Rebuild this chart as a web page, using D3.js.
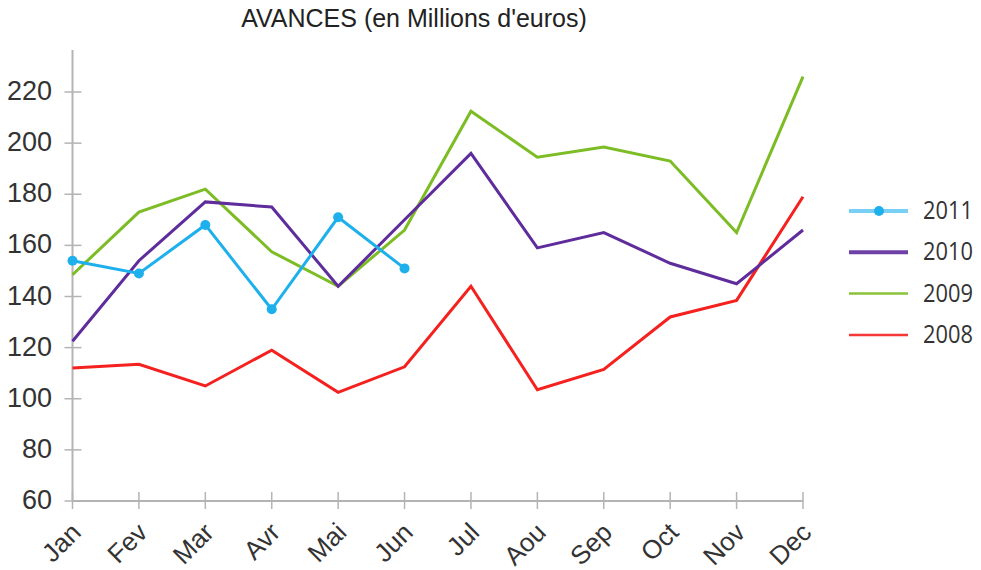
<!DOCTYPE html>
<html>
<head>
<meta charset="utf-8">
<script src="https://cdn.jsdelivr.net/npm/d3@7"></script>
<style>
  html, body { margin: 0; padding: 0; background: #fff; }
  svg { display: block; }
</style>
</head>
<body>
<div id="chart"></div>
<script>
// Donnees (millions d'euros)
const mois = ["Jan", "Fev", "Mar", "Avr", "Mai", "Jun", "Jul", "Aou", "Sep", "Oct", "Nov", "Dec"];
const annees = ["2011", "2010", "2009", "2008"];
const val2011 = [154, 149, 168, 135, 171, 151];
const val2010 = [122.5, 154, 177, 175, 144, 170, 196, 159, 165, 153, 145, 166];
const val2009 = [148.5, 173, 182, 157.5, 144, 166, 212.5, 194.5, 198.5, 193, 165, 226];
const val2008 = [112, 113.5, 105, 119, 102.5, 112.5, 144, 103.5, 111.5, 132, 138.5, 179];
const yTicks = [60, 80, 100, 120, 140, 160, 180, 200, 220];

const W = 981, H = 570;
const couleurs = { "2011": "#1eb0ec", "2010": "#5f2c9c", "2009": "#7cbc24", "2008": "#f4211f" };
const series = [
  { nom: "2008", vals: val2008 },
  { nom: "2009", vals: val2009 },
  { nom: "2010", vals: val2010 },
  { nom: "2011", vals: val2011 }
];

const svg = d3.select("#chart").append("svg")
  .attr("width", W).attr("height", H);

const x = d3.scalePoint().domain(mois).range([72.5, 803]);
const y = d3.scaleLinear().domain([60, 220]).range([501, 92]);

// titre
svg.append("text")
  .attr("x", 414).attr("y", 27)
  .attr("text-anchor", "middle")
  .attr("font-family", "Liberation Sans, Arial, sans-serif")
  .attr("font-size", 25)
  .attr("fill", "#222")
  .text("AVANCES (en Millions d'euros)");

const axisColor = "#b4b4b4";

// axe Y
svg.append("line")
  .attr("x1", x("Jan")).attr("x2", x("Jan"))
  .attr("y1", 50).attr("y2", y(60))
  .attr("stroke", axisColor).attr("stroke-width", 2);

const gy = svg.append("g");
yTicks.forEach(t => {
  gy.append("line")
    .attr("x1", x("Jan") - 8).attr("x2", x("Jan") + 9)
    .attr("y1", y(t)).attr("y2", y(t))
    .attr("stroke", axisColor).attr("stroke-width", 1.5);
  gy.append("text")
    .attr("x", 52).attr("y", y(t) + 8)
    .attr("text-anchor", "end")
    .attr("font-family", "Liberation Sans, Arial, sans-serif")
    .attr("font-size", 27)
    .attr("fill", "#333")
    .text(t);
});

// axe X
svg.append("line")
  .attr("x1", x("Jan")).attr("x2", x("Dec"))
  .attr("y1", y(60)).attr("y2", y(60))
  .attr("stroke", axisColor).attr("stroke-width", 2);

const gx = svg.append("g");
mois.forEach(m => {
  gx.append("line")
    .attr("x1", x(m)).attr("x2", x(m))
    .attr("y1", y(60) - 9).attr("y2", y(60) + 8)
    .attr("stroke", axisColor).attr("stroke-width", 1.5);
  gx.append("text")
    .attr("transform", `translate(${x(m) + 10},${y(60) + 33}) rotate(-45)`)
    .attr("text-anchor", "end")
    .attr("font-family", "Liberation Sans, Arial, sans-serif")
    .attr("font-size", 26)
    .attr("fill", "#333")
    .text(m);
});

// courbes
const line = d3.line()
  .x((d, i) => x(mois[i]))
  .y(d => y(d));

series.forEach(s => {
  svg.append("path")
    .datum(s.vals)
    .attr("d", line)
    .attr("fill", "none")
    .attr("stroke", couleurs[s.nom])
    .attr("stroke-width", 3)
    .attr("stroke-linejoin", "miter");
});

// points 2011
svg.append("g")
  .selectAll("circle")
  .data(val2011)
  .join("circle")
  .attr("cx", (d, i) => x(mois[i]))
  .attr("cy", d => y(d))
  .attr("r", 5)
  .attr("fill", couleurs["2011"]);

// legende
const leg = svg.append("g");
annees.forEach((a, i) => {
  const ly = 211 + i * 41.3;
  const epais = (a === "2011" || a === "2010") ? 4 : 2.5;
  leg.append("line")
    .attr("x1", 849).attr("x2", 908)
    .attr("y1", ly).attr("y2", ly)
    .attr("stroke", couleurs[a])
    .attr("stroke-opacity", a === "2011" ? 0.6 : 0.9)
    .attr("stroke-width", epais);
  if (a === "2011") {
    leg.append("circle")
      .attr("cx", 879).attr("cy", ly).attr("r", 5)
      .attr("fill", couleurs[a]);
  }
  leg.append("text")
    .attr("x", 923).attr("y", ly + 8)
    .attr("font-family", "Open Sans, sans-serif")
    .attr("font-size", 25)
    .attr("textLength", 50)
    .attr("lengthAdjust", "spacingAndGlyphs")
    .attr("fill", "#333")
    .text(a);
});
</script>
</body>
</html>
